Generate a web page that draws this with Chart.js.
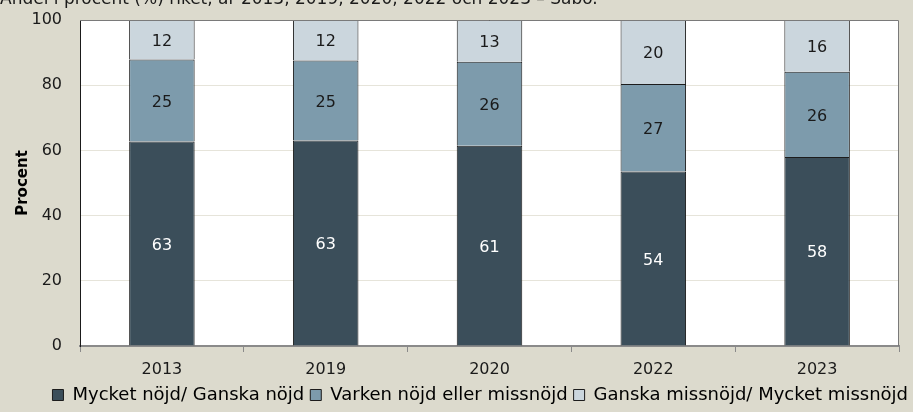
<!DOCTYPE html>
<html>
<head>
<meta charset="utf-8">
<script src="https://cdn.jsdelivr.net/npm/chart.js@4/dist/chart.umd.min.js"></script>
<style>
html,body{margin:0;padding:0;background:#dcdacd;}
#wrap{width:913px;height:412px;position:relative;}
</style>
</head>
<body>
<div id="wrap"><canvas id="barChart" width="913" height="412"></canvas></div>
<script>
// år
var years = ["2013", "2019", "2020", "2022", "2023"];
// andel i procent
var nojd = [62.7, 63.0, 61.4, 53.5, 58.0];
var varken = [25.2, 24.6, 25.8, 26.9, 26.1];
var missnojd = [12.1, 12.4, 12.8, 19.6, 15.9];
var seriesNames = ["Mycket nöjd/ Ganska nöjd", "Varken nöjd eller missnöjd", "Ganska missnöjd/ Mycket missnöjd"];
var yTicks = [0, 20, 40, 60, 80, 100];
var titleText = "Andel i procent (%) riket, år 2013, 2019, 2020, 2022 och 2023 – Sabo.";

var fontFam = "'DejaVu Sans', sans-serif";
Chart.defaults.font.family = fontFam;
Chart.defaults.color = "#1a1a1a";

// bakgrund, vit plotyta, ram och rubrikrad
var bgPlugin = {
	id: 'bg',
	afterLayout: function(chart){
		// legenden går ut nästan till kanten, som i förlagan
		if (chart.legend) chart.legend.right = chart.width + 1;
	},
	beforeDraw: function(chart){
		var c = chart.ctx, a = chart.chartArea;
		c.save();
		c.fillStyle = '#dcdacd';
		c.fillRect(0, 0, chart.width, chart.height);
		c.fillStyle = '#ffffff';
		c.fillRect(a.left, a.top, a.right - a.left, a.bottom - a.top);
		c.restore();
	},
	afterDraw: function(chart){
		var c = chart.ctx, a = chart.chartArea;
		c.save();
		c.strokeStyle = '#7a7a7a';
		c.lineWidth = 1;
		c.beginPath();
		c.moveTo(a.left, a.top + 0.5);
		c.lineTo(a.right - 0.5, a.top + 0.5);
		c.lineTo(a.right - 0.5, a.bottom);
		c.stroke();
		c.fillStyle = '#1a1a1a';
		c.font = '17px ' + fontFam;
		c.textBaseline = 'alphabetic';
		c.fillText(titleText, 0, 4);
		c.restore();
	}
};

// siffror mitt i varje stapeldel
var labelPlugin = {
	id: 'vals',
	afterDatasetsDraw: function(chart){
		var c = chart.ctx;
		c.save();
		c.font = '16px ' + fontFam;
		c.textAlign = 'center';
		c.textBaseline = 'middle';
		chart.data.datasets.forEach(function(ds, i){
			var meta = chart.getDatasetMeta(i);
			meta.data.forEach(function(bar, j){
				var p = bar.getCenterPoint();
				c.fillStyle = i == 0 ? '#ffffff' : '#1a1a1a';
				c.fillText(Math.round(ds.data[j]), p.x, p.y + 2);
			});
		});
		c.restore();
	}
};

var ctx = document.getElementById("barChart").getContext('2d');
var myChart = new Chart(ctx, {
	type: 'bar',
	data: {
		labels: years,
		datasets: [
			{label: seriesNames[0], data: nojd, backgroundColor: "#3b4e5a", borderColor: "#1c1c1c", borderWidth: 1},
			{label: seriesNames[1], data: varken, backgroundColor: "#7d9bac", borderColor: "#1c1c1c", borderWidth: 1},
			{label: seriesNames[2], data: missnojd, backgroundColor: "#cbd6dd", borderColor: "#1c1c1c", borderWidth: 1}
		]
	},
	options: {
		responsive: false,
		animation: false,
		devicePixelRatio: 1,
		layout: {padding: {top: 20, right: 14, left: 0, bottom: -2}},
		datasets: {bar: {barPercentage: 0.4, categoryPercentage: 1}},
		scales: {
			x: {
				stacked: true,
				afterFit: function(s){ s.height = 34; },
				grid: {drawOnChartArea: false, color: '#8a8a8a', tickLength: 6, offset: true},
				border: {color: '#8a8a8a', width: 2},
				ticks: {font: {size: 16}, color: '#1a1a1a', padding: 8}
			},
			y: {
				stacked: true,
				min: 0, max: 100,
				afterBuildTicks: function(s){ s.ticks = yTicks.map(function(v){ return {value: v}; }); },
				afterFit: function(s){ s.width = 80; },
				grid: {color: '#e6e4da', drawTicks: true, tickLength: 8, tickColor: 'rgba(0,0,0,0)'},
				border: {color: '#1a1a1a', width: 1},
				ticks: {font: {size: 16}, color: '#1a1a1a', padding: 10},
				title: {display: true, text: 'Procent', font: {size: 15, weight: 'bold'}, color: '#000', padding: {top: 14, bottom: 0}}
			}
		},
		plugins: {
			legend: {
				position: 'bottom',
				align: 'end',
				labels: {
					font: {size: 18},
					color: '#1a1a1a',
					boxWidth: 11,
					boxHeight: 11,
					padding: 6,
					generateLabels: function(chart){
						return chart.data.datasets.map(function(ds, i){
							return {text: ds.label, fillStyle: ds.backgroundColor, strokeStyle: '#1c1c1c', lineWidth: 1, datasetIndex: i};
						});
					}
				}
			},
			tooltip: {enabled: false}
		}
	},
	plugins: [bgPlugin, labelPlugin]
});
</script>
</body>
</html>
